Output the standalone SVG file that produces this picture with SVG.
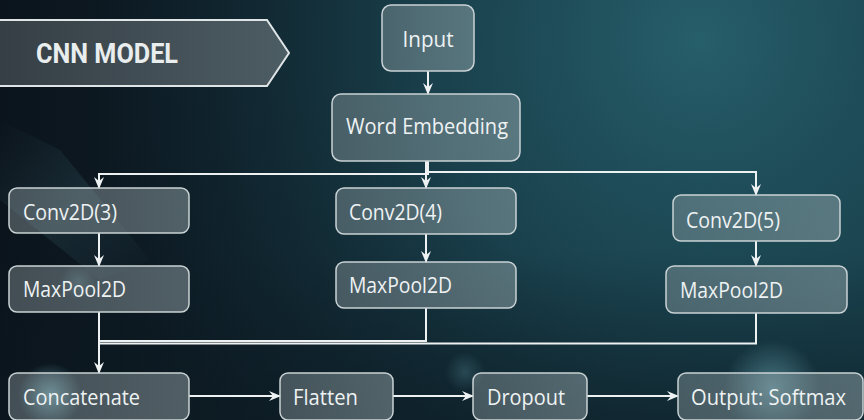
<svg xmlns="http://www.w3.org/2000/svg" width="864" height="420" viewBox="0 0 864 420">
  <defs>
    <linearGradient id="bgBase" x1="0" y1="0" x2="1" y2="0">
      <stop offset="0" stop-color="#0b141c"/>
      <stop offset="0.5" stop-color="#112630"/>
      <stop offset="1" stop-color="#173d48"/>
    </linearGradient>
    <radialGradient id="bgGlow" cx="700" cy="40" r="620" gradientUnits="userSpaceOnUse">
      <stop offset="0" stop-color="#265e6a" stop-opacity="1"/>
      <stop offset="0.45" stop-color="#1b4652" stop-opacity="0.8"/>
      <stop offset="1" stop-color="#102530" stop-opacity="0"/>
    </radialGradient>
    <linearGradient id="bgBottom" x1="0" y1="0" x2="0" y2="1">
      <stop offset="0.6" stop-color="#0b1820" stop-opacity="0"/>
      <stop offset="1" stop-color="#0b1820" stop-opacity="0.5"/>
    </linearGradient>
    <radialGradient id="spot" cx="0.5" cy="0.5" r="0.5">
      <stop offset="0" stop-color="#7fc4d2" stop-opacity="0.6"/>
      <stop offset="1" stop-color="#7fc4d2" stop-opacity="0"/>
    </radialGradient>
    <linearGradient id="streak" x1="0" y1="0" x2="1" y2="1">
      <stop offset="0" stop-color="#4d7f8c" stop-opacity="0"/>
      <stop offset="0.5" stop-color="#4d7f8c" stop-opacity="0.18"/>
      <stop offset="1" stop-color="#4d7f8c" stop-opacity="0"/>
    </linearGradient>
    <linearGradient id="bannerFill" x1="0" y1="0" x2="1" y2="0">
      <stop offset="0" stop-color="#353e44"/>
      <stop offset="1" stop-color="#4d5d64"/>
    </linearGradient>
    <linearGradient id="boxFill" x1="0" y1="0" x2="1" y2="0">
      <stop offset="0" stop-color="#97a4a8" stop-opacity="0.40"/>
      <stop offset="1" stop-color="#a3b2b6" stop-opacity="0.45"/>
    </linearGradient>
    <marker id="arr" viewBox="0 0 12 12" refX="11" refY="6" markerWidth="12" markerHeight="12" markerUnits="userSpaceOnUse" orient="auto">
      <path d="M0,1 L12,6 L0,11 L4,6 z" fill="#eef1f2"/>
    </marker>
    <style>
      .box { fill: url(#boxFill); stroke: #c9d2d4; stroke-width: 1.5; }
      .lbl { font-family: "Open Sans", "Noto Sans", "Liberation Sans", sans-serif; font-size: 22.5px; fill: #eef2f3; }
      .ctr { text-anchor: middle; }
      .conn { fill: none; stroke: #eef1f2; stroke-width: 2; }
      .title { font-family: "Roboto", "Open Sans", "Liberation Sans", sans-serif; font-weight: bold; font-size: 28px; fill: #e9edee; }
    </style>
  </defs>

  <!-- background -->
  <rect x="0" y="0" width="864" height="420" fill="url(#bgBase)"/>
  <rect x="0" y="0" width="864" height="420" fill="url(#bgGlow)"/>
  <rect x="0" y="0" width="864" height="420" fill="url(#bgBottom)"/>
  <polygon points="0,120 60,150 150,260 100,280 0,200" fill="url(#streak)"/>
  <circle cx="50" cy="395" r="32" fill="url(#spot)"/>
  <circle cx="772" cy="388" r="48" fill="url(#spot)" opacity="0.8"/>
  <circle cx="465" cy="372" r="20" fill="url(#spot)" opacity="0.35"/>
  <circle cx="78" cy="282" r="18" fill="url(#spot)" opacity="0.4"/>

  <!-- title banner -->
  <g id="banner">
    <path d="M-5,20 L267,20 L289,53 L267,86 L-5,86 Z" fill="url(#bannerFill)" stroke="#dfe5e7" stroke-width="2"/>
    <text class="title" x="36" y="63" textLength="142" lengthAdjust="spacingAndGlyphs">CNN MODEL</text>
  </g>

  <!-- connectors -->
  <g id="connectors">
    <path class="conn" d="M428,71 V94" marker-end="url(#arr)"/>
    <path class="conn" d="M428,161 V174 H99 V188" marker-end="url(#arr)"/>
    <path class="conn" d="M428,161 V172 H756 V195" marker-end="url(#arr)"/>
    <path class="conn" d="M426,161 V188" marker-end="url(#arr)"/>
    <path class="conn" d="M99,233 V266" marker-end="url(#arr)"/>
    <path class="conn" d="M426,234 V262" marker-end="url(#arr)"/>
    <path class="conn" d="M756,241 V266" marker-end="url(#arr)"/>
    <path class="conn" d="M99,312 V373" marker-end="url(#arr)"/>
    <path class="conn" d="M426,308 V341 H99"/>
    <path class="conn" d="M756,313 V343.5 H99"/>
    <path class="conn" d="M189,396 H280" marker-end="url(#arr)"/>
    <path class="conn" d="M393,396 H473" marker-end="url(#arr)"/>
    <path class="conn" d="M587,396 H678" marker-end="url(#arr)"/>
  </g>

  <!-- nodes -->
  <g id="input">
    <rect class="box" x="382" y="5" width="92" height="66" rx="9"/>
    <text class="lbl ctr" x="428" y="47" textLength="51" lengthAdjust="spacingAndGlyphs">Input</text>
  </g>
  <g id="word-embedding">
    <rect class="box" x="332" y="94" width="188" height="67" rx="9"/>
    <text class="lbl ctr" x="427" y="134" textLength="162" lengthAdjust="spacingAndGlyphs">Word Embedding</text>
  </g>
  <g id="conv3">
    <rect class="box" x="9" y="188" width="180" height="45" rx="8"/>
    <text class="lbl" x="23" y="220" textLength="94" lengthAdjust="spacingAndGlyphs">Conv2D(3)</text>
  </g>
  <g id="maxpool3">
    <rect class="box" x="9" y="266" width="180" height="46" rx="8"/>
    <text class="lbl" x="23" y="297" textLength="103" lengthAdjust="spacingAndGlyphs">MaxPool2D</text>
  </g>
  <g id="conv4">
    <rect class="box" x="336" y="188" width="180" height="46" rx="8"/>
    <text class="lbl" x="349" y="220" textLength="93" lengthAdjust="spacingAndGlyphs">Conv2D(4)</text>
  </g>
  <g id="maxpool4">
    <rect class="box" x="336" y="262" width="180" height="46" rx="8"/>
    <text class="lbl" x="349" y="293" textLength="103" lengthAdjust="spacingAndGlyphs">MaxPool2D</text>
  </g>
  <g id="conv5">
    <rect class="box" x="673" y="195" width="167" height="46" rx="8"/>
    <text class="lbl" x="686" y="228" textLength="94" lengthAdjust="spacingAndGlyphs">Conv2D(5)</text>
  </g>
  <g id="maxpool5">
    <rect class="box" x="666" y="266" width="181" height="47" rx="8"/>
    <text class="lbl" x="680" y="298" textLength="103" lengthAdjust="spacingAndGlyphs">MaxPool2D</text>
  </g>
  <g id="concatenate">
    <rect class="box" x="9" y="373" width="180" height="47" rx="8"/>
    <text class="lbl" x="23" y="405" textLength="117" lengthAdjust="spacingAndGlyphs">Concatenate</text>
  </g>
  <g id="flatten">
    <rect class="box" x="280" y="373" width="113" height="47" rx="8"/>
    <text class="lbl" x="293" y="405" textLength="65" lengthAdjust="spacingAndGlyphs">Flatten</text>
  </g>
  <g id="dropout">
    <rect class="box" x="473" y="373" width="114" height="47" rx="8"/>
    <text class="lbl" x="487" y="405" textLength="78" lengthAdjust="spacingAndGlyphs">Dropout</text>
  </g>
  <g id="output">
    <rect class="box" x="678" y="373" width="185" height="47" rx="8"/>
    <text class="lbl" x="691" y="405" textLength="155" lengthAdjust="spacingAndGlyphs">Output: Softmax</text>
  </g>
</svg>
